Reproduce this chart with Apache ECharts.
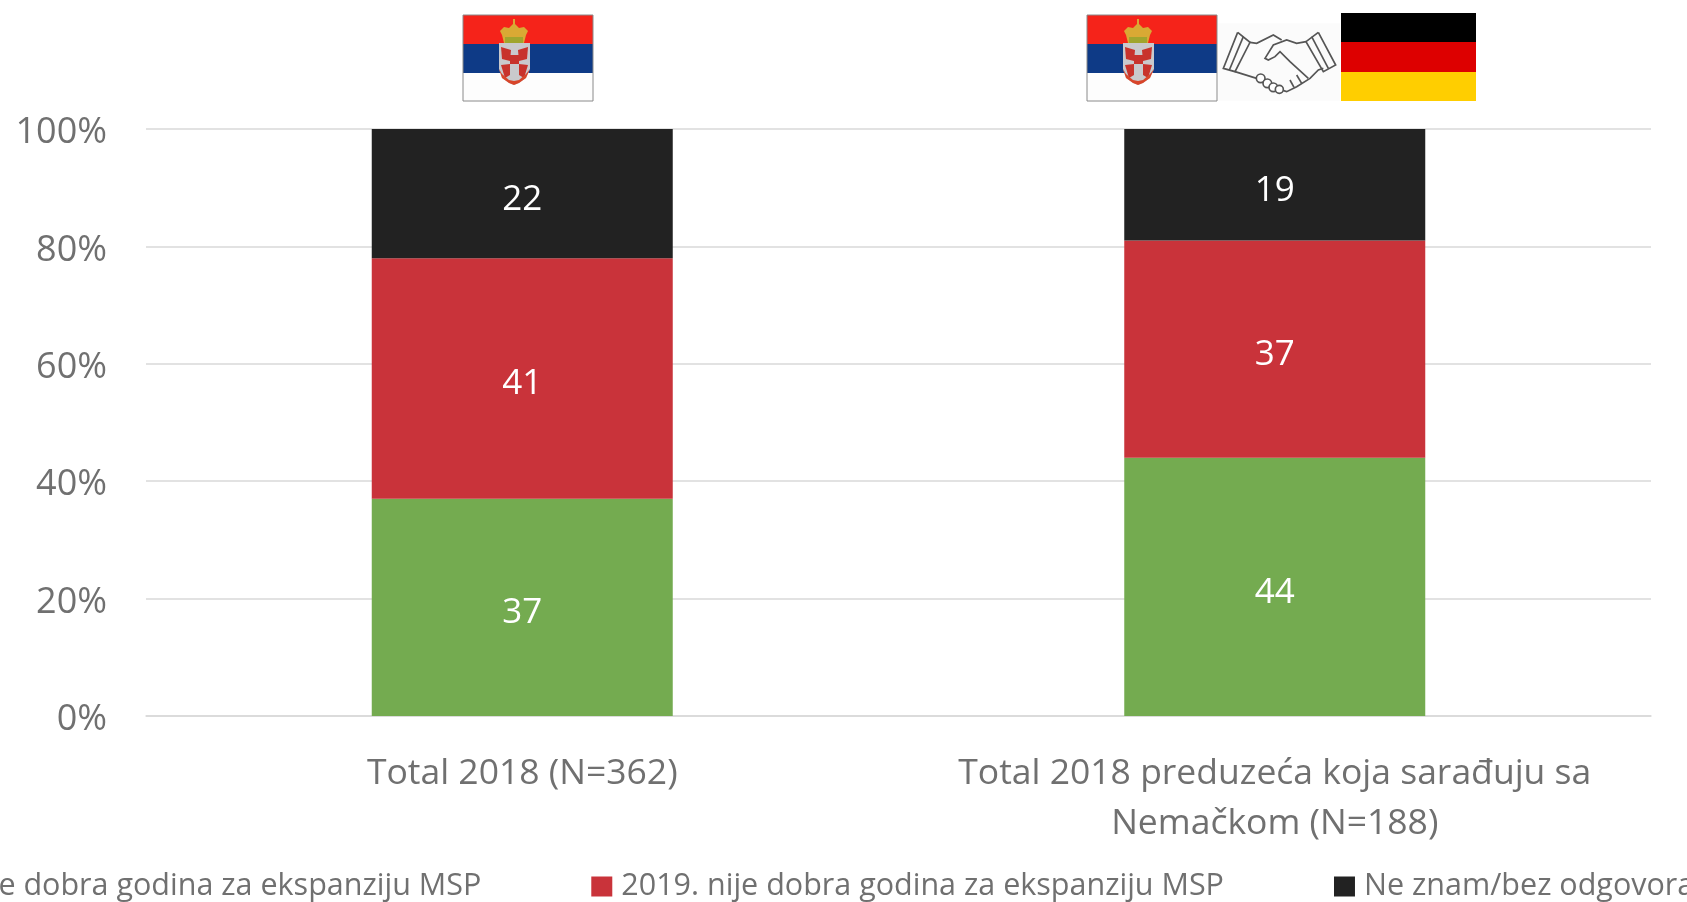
<!DOCTYPE html>
<html>
<head>
<meta charset="utf-8">
<style>
  html, body { margin: 0; padding: 0; background: #fff; }
  #chart { width: 1687px; height: 902px; }
</style>
<script src="https://cdn.jsdelivr.net/npm/echarts@6/dist/echarts.min.js"></script>
</head>
<body>
<div id="chart"></div>
<script>
  const categories = ['Total 2018 (N=362)', 'Total 2018 preduzeća koja sarađuju sa\nNemačkom (N=188)'];
  const dobra = [37, 44];
  const nijeDobra = [41, 37];
  const neZnam = [22, 19];
  const dobraName = '2019. je dobra godina za ekspanziju MSP';
  const nijeName = '2019. nije dobra godina za ekspanziju MSP';
  const neZnamName = 'Ne znam/bez odgovora';
  const font = '"Open Sans", sans-serif';
  const gray = '#707070';

  function bar(name, data, color) {
    return {
      name: name,
      type: 'bar',
      stack: 'total',
      barWidth: '40%',
      data: data,
      itemStyle: { color: color },
      label: { show: true, position: 'inside', offset: [0, 6], color: '#fff', fontFamily: font, fontSize: 35 }
    };
  }

  function poly(points, fill) {
    return { type: 'polygon', shape: { points: points }, style: { fill: fill } };
  }

  function line(points) {
    return { type: 'polyline', shape: { points: points }, style: { fill: 'none', stroke: '#555', lineWidth: 5 } };
  }

  function finger(cx, cy, r) {
    return { type: 'circle', shape: { cx: cx, cy: cy, r: r }, style: { fill: '#fff', stroke: '#555', lineWidth: 5 } };
  }

  // serbian flag, drawn at its top left corner
  function serbia(x, y) {
    return {
      type: 'group', x: x, y: y,
      children: [
        { type: 'rect', shape: { x: 0, y: 0, width: 130, height: 29 }, style: { fill: '#f5231a' } },
        { type: 'rect', shape: { x: 0, y: 29, width: 130, height: 29 }, style: { fill: '#0e3a86' } },
        { type: 'rect', shape: { x: 0, y: 58, width: 130, height: 28 }, style: { fill: '#fdfdfd' } },
        { type: 'rect', shape: { x: 0, y: 0, width: 130, height: 86 }, style: { fill: 'none', stroke: '#8a8a8a', lineWidth: 1 } },
        // crown
        poly([[41, 28], [39, 20], [37, 16], [41, 12], [46, 13], [50, 9], [50, 4], [52, 4], [52, 9], [56, 13], [61, 12], [65, 16], [63, 20], [61, 28]], '#d9a934'),
        { type: 'rect', shape: { x: 42, y: 22, width: 18, height: 6 }, style: { fill: '#a0a52e' } },
        // shield
        poly([[36, 28], [67, 28], [67, 54], [63, 63], [56, 68], [51, 70], [46, 68], [39, 63], [36, 54]], '#c9c9cc'),
        poly([[38, 32], [48, 35], [47, 46], [39, 44]], '#c8332c'),
        poly([[65, 32], [55, 35], [56, 46], [64, 44]], '#c8332c'),
        poly([[38, 50], [47, 49], [47, 60], [42, 63]], '#c8332c'),
        poly([[65, 50], [56, 49], [56, 60], [61, 63]], '#c8332c'),
        poly([[47, 40], [56, 40], [56, 49], [47, 49]], '#c8332c'),
        poly([[36, 54], [39, 59], [46, 65], [51, 66], [56, 65], [63, 59], [67, 54], [63, 63], [56, 68], [51, 70], [46, 68], [39, 63]], '#d8452a')
      ]
    };
  }

  let chart = echarts.init(document.getElementById('chart'));
  let option = {
    backgroundColor: '#fff',
    animation: false,
    textStyle: { fontFamily: font },
    grid: { left: 146, right: 36, top: 129, bottom: 186 },
    legend: {
      left: -130,
      top: 866,
      width: 3000,
      icon: 'rect',
      itemWidth: 21,
      itemHeight: 20,
      itemGap: 110,
      data: [dobraName, nijeName, neZnamName],
      textStyle: { color: gray, fontFamily: font, fontSize: 30.5, padding: [0, 0, 0, 4] }
    },
    xAxis: {
      type: 'category',
      data: categories,
      axisTick: { show: false },
      axisLine: { lineStyle: { color: '#d9d9d9', width: 1.5 } },
      axisLabel: { color: gray, fontFamily: font, fontSize: 35.5, lineHeight: 50, margin: 33, interval: 0, hideOverlap: false }
    },
    yAxis: {
      type: 'value',
      min: 0,
      max: 100,
      interval: 20,
      axisLine: { show: false },
      axisTick: { show: false },
      splitLine: { lineStyle: { color: '#d9d9d9', width: 1.5 } },
      axisLabel: { color: gray, fontFamily: font, fontSize: 36, margin: 39, verticalAlign: 'top', lineHeight: 8, formatter: '{value}%' }
    },
    series: [
      bar(dobraName, dobra, '#74ab50'),
      bar(nijeName, nijeDobra, '#c9333a'),
      bar(neZnamName, neZnam, '#222222')
    ],
    graphic: [
      serbia(463, 15),
      serbia(1087, 15),
      // handshake
      {
        type: 'group', x: 1070, y: 0, scaleX: 1 / 3, scaleY: 1 / 3,
        children: [
          { type: 'rect', shape: { x: 445, y: 70, width: 365, height: 232 }, style: { fill: '#fbfbfb' } },
          line([[503, 97], [540, 127], [495, 215], [460, 205], [503, 97]]),
          line([[520, 110], [478, 210]]),
          line([[745, 97], [708, 125], [760, 215], [797, 195], [745, 97]]),
          line([[725, 110], [775, 205]]),
          line([[540, 127], [560, 130], [610, 105], [635, 120]]),
          line([[708, 125], [680, 130], [650, 120], [610, 135], [585, 175], [595, 180], [615, 170], [630, 155], [660, 185], [715, 235]]),
          line([[495, 215], [560, 235]]),
          line([[628, 268], [650, 275], [680, 260], [720, 235], [745, 210], [760, 205]]),
          line([[660, 240], [672, 262]]),
          line([[680, 225], [695, 250]]),
          finger(572, 235, 13),
          finger(592, 250, 13),
          finger(610, 262, 13),
          finger(628, 268, 12)
        ]
      },
      // german flag
      { type: 'rect', shape: { x: 1341, y: 13, width: 135, height: 29 }, style: { fill: '#000' } },
      { type: 'rect', shape: { x: 1341, y: 42, width: 135, height: 30 }, style: { fill: '#dd0000' } },
      { type: 'rect', shape: { x: 1341, y: 72, width: 135, height: 29 }, style: { fill: '#ffce00' } }
    ]
  };
  chart.setOption(option);
</script>
</body>
</html>
